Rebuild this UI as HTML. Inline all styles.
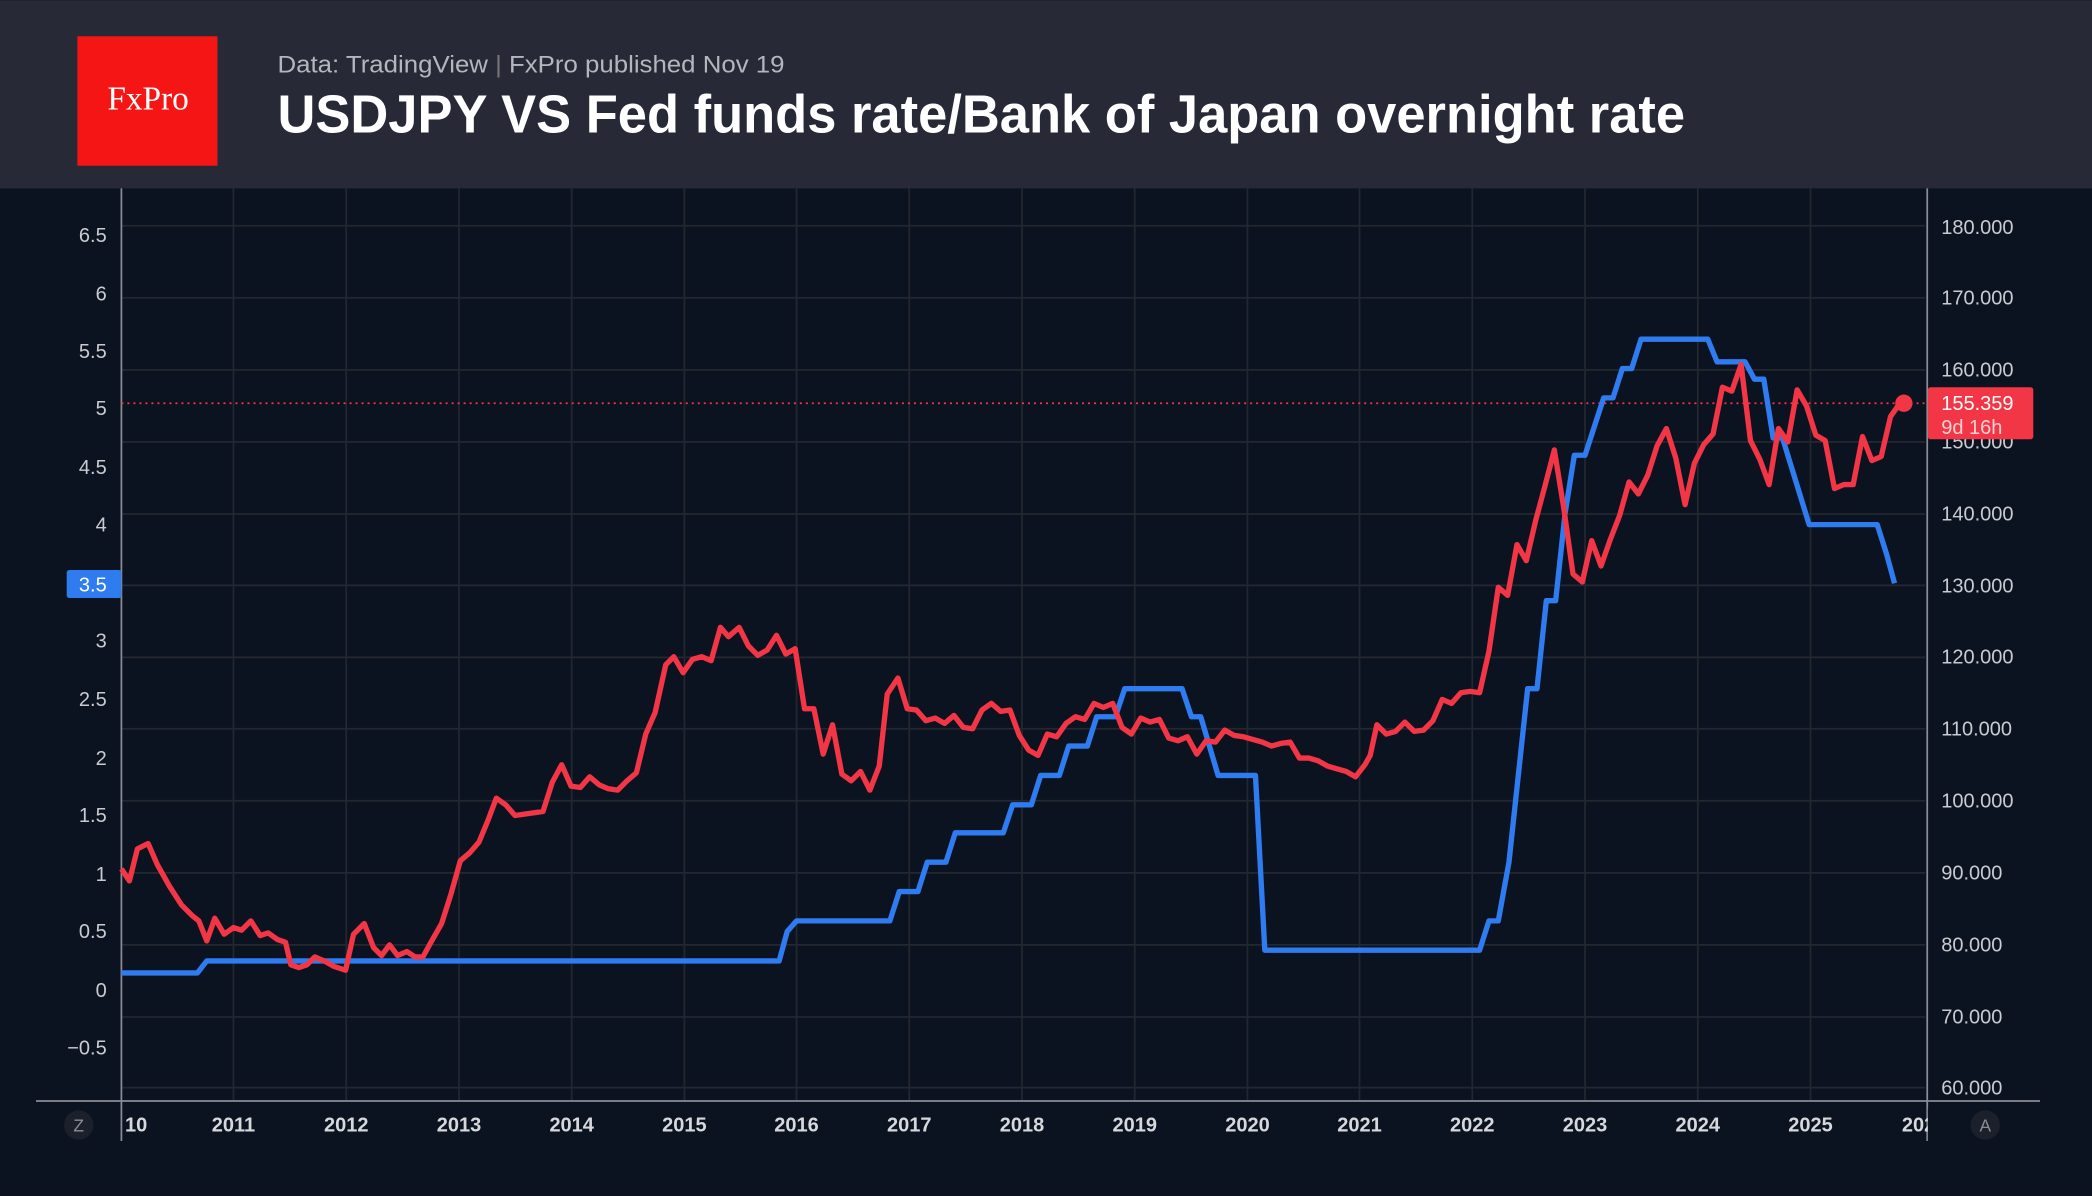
<!DOCTYPE html>
<html><head><meta charset="utf-8"><style>
html,body{margin:0;padding:0;background:#0c1320;}
svg{display:block}
text{font-family:"Liberation Sans",sans-serif}
</style></head><body>
<svg width="2092" height="1196" viewBox="0 0 1568 896" xmlns="http://www.w3.org/2000/svg">
<rect width="1568" height="896" fill="#0c1320"/>
<rect width="1568" height="141" fill="#272a36"/>
<rect x="58" y="27" width="105" height="97" fill="#f51515"/>
<text x="111" y="82" fill="#fff" font-size="25" text-anchor="middle" style="font-family:'Liberation Serif',serif">FxPro</text>
<text x="208" y="54" fill="#b4b6bd" font-size="18" textLength="380" lengthAdjust="spacingAndGlyphs">Data: TradingView <tspan fill="#777">|</tspan> FxPro published Nov 19</text>
<text x="208" y="99" fill="#fff" font-size="40" font-weight="bold" textLength="1055" lengthAdjust="spacingAndGlyphs">USDJPY VS Fed funds rate/Bank of Japan overnight rate</text>
<g stroke="#23272f" stroke-width="1.3">
<line x1="91" x2="1443" y1="169" y2="169"/><line x1="91" x2="1443" y1="223" y2="223"/>
<line x1="91" x2="1443" y1="277" y2="277"/><line x1="91" x2="1443" y1="331" y2="331"/>
<line x1="91" x2="1443" y1="385" y2="385"/><line x1="91" x2="1443" y1="438.5" y2="438.5"/>
<line x1="91" x2="1443" y1="492.5" y2="492.5"/><line x1="91" x2="1443" y1="546" y2="546"/>
<line x1="91" x2="1443" y1="600" y2="600"/><line x1="91" x2="1443" y1="654" y2="654"/>
<line x1="91" x2="1443" y1="708" y2="708"/><line x1="91" x2="1443" y1="762" y2="762"/>
<line x1="91" x2="1443" y1="815" y2="815"/>
<line x1="175" x2="175" y1="141" y2="825"/><line x1="259.5" x2="259.5" y1="141" y2="825"/>
<line x1="344" x2="344" y1="141" y2="825"/><line x1="428.5" x2="428.5" y1="141" y2="825"/>
<line x1="513" x2="513" y1="141" y2="825"/><line x1="597" x2="597" y1="141" y2="825"/>
<line x1="681.5" x2="681.5" y1="141" y2="825"/><line x1="766" x2="766" y1="141" y2="825"/>
<line x1="850.5" x2="850.5" y1="141" y2="825"/><line x1="935" x2="935" y1="141" y2="825"/>
<line x1="1019" x2="1019" y1="141" y2="825"/><line x1="1103.5" x2="1103.5" y1="141" y2="825"/>
<line x1="1188" x2="1188" y1="141" y2="825"/><line x1="1272.5" x2="1272.5" y1="141" y2="825"/>
<line x1="1357" x2="1357" y1="141" y2="825"/>
</g>
<g stroke="#8a8d94" stroke-width="1.3">
<line x1="27" x2="1529" y1="825" y2="825"/>
<line x1="91" x2="91" y1="141" y2="855"/>
<line x1="1444.5" x2="1444.5" y1="141" y2="855"/>
</g>
<line x1="91" x2="1443" y1="302" y2="302" stroke="#f23645" stroke-width="1.3" stroke-dasharray="1.5 3"/>
<polyline fill="none" stroke="#2f7bf0" stroke-width="4" stroke-linejoin="round" points="91,729 148,729 155,720 584,720 590,698 597,690 667,690 674,668 688,668 695,646 709,646 716,624 752,624 759,603 773,603 780,581 794,581 801,559 815,559 822,537 836,537 843,516 886,516 893,537 900,537 913,581 941,581 948,712 1109,712 1116,690 1123,690 1131,646 1138,581 1145,516 1152,516 1159,450 1166,450 1173,385 1180,341 1188,341 1202,298 1209,298 1216,276 1223,276 1230,254 1280,254 1287,271 1308,271 1315,284 1322,284 1329,328 1336,328 1356,393 1407,393 1414,415 1420,437"/>
<polyline fill="none" stroke="#f23645" stroke-width="4" stroke-linejoin="round" points="91,651 97,660 103,636 111,632 118,648 127,664 136,678 144,686 149,690 155,705 161,688 168,700 175,695 181,697 188,690 195,701 201,699 208,704 214,706 218,723 224,725 230,723 236,717 243,720 250,724 259,727 265,700 273,692 280,710 286,716 292,708 298,716 305,713 311,717 317,717 323,706 331,692 338,670 345,645 352,639 359,631 366,614 372,598 379,603 386,611 393,610 407,608 414,586 421,573 428,589 435,590 442,582 449,588 456,591 463,592 470,585 477,579 484,550 491,534 499,498 505,492 512,504 519,494 526,492 533,495 540,470 546,477 554,470 561,484 568,491 575,487 582,476 589,490 596,486 603,531 610,531 617,565 624,543 631,580 638,585 645,578 652,592 659,574 665,520 673,508 680,531 687,532 694,540 701,538 708,542 715,536 722,545 729,546 736,532 743,527 750,533 757,532 764,551 771,562 778,566 785,550 792,552 799,542 806,537 813,539 820,527 827,530 834,527 841,545 848,550 855,538 862,541 869,539 876,553 883,555 890,552 897,565 904,555 911,556 918,547 925,551 932,552 939,554 946,556 953,559 960,557 967,556 974,568 981,568 988,570 995,574 1002,576 1009,578 1016,582 1023,573 1027,566 1032,543 1039,550 1046,548 1053,541 1060,548 1067,547 1074,540 1081,524 1088,527 1095,519 1102,518 1109,519 1116,488 1123,440 1130,446 1137,408 1144,420 1151,390 1158,364 1165,337 1172,380 1179,430 1186,436 1193,405 1200,424 1207,404 1214,386 1221,361 1228,370 1235,356 1242,334 1249,321 1256,343 1263,378 1270,347 1277,333 1284,325 1291,290 1298,293 1305,273 1312,330 1319,344 1326,363 1333,321 1340,331 1347,292 1354,304 1361,326 1368,330 1375,366 1382,363 1389,363 1396,327 1403,345 1410,342 1417,312 1424,302"/>
<circle cx="1427" cy="302" r="6.5" fill="#f23645"/>
<g fill="#c9cbd0" font-size="15" text-anchor="end">
<text x="80" y="181">6.5</text><text x="80" y="225">6</text><text x="80" y="268">5.5</text>
<text x="80" y="311">5</text><text x="80" y="355">4.5</text><text x="80" y="398">4</text>
<text x="80" y="485">3</text><text x="80" y="529">2.5</text><text x="80" y="573">2</text>
<text x="80" y="616">1.5</text><text x="80" y="660">1</text><text x="80" y="703">0.5</text>
<text x="80" y="747">0</text><text x="80" y="790">−0.5</text>
</g>
<rect x="50" y="427" width="41" height="21" rx="2" fill="#2f7bf0"/>
<text x="80" y="443" fill="#fff" font-size="15" text-anchor="end">3.5</text>
<g fill="#c9cbd0" font-size="15">
<text x="1455" y="175">180.000</text><text x="1455" y="228">170.000</text><text x="1455" y="282">160.000</text>
<text x="1455" y="336">150.000</text><text x="1455" y="390">140.000</text><text x="1455" y="444">130.000</text>
<text x="1455" y="497">120.000</text><text x="1455" y="551">110.000</text><text x="1455" y="605">100.000</text>
<text x="1455" y="659">90.000</text><text x="1455" y="713">80.000</text><text x="1455" y="767">70.000</text>
<text x="1455" y="820">60.000</text>
</g>
<rect x="1445" y="290" width="79" height="39" rx="2" fill="#f23645"/>
<text x="1455" y="307" fill="#fff" font-size="15">155.359</text>
<text x="1455" y="325" fill="#fbd0d4" font-size="15">9d 16h</text>
<g fill="#d6d8dc" font-size="15" font-weight="bold" text-anchor="middle">
<text x="102" y="848">10</text><text x="175" y="848">2011</text><text x="259.5" y="848">2012</text>
<text x="344" y="848">2013</text><text x="428.5" y="848">2014</text><text x="513" y="848">2015</text>
<text x="597" y="848">2016</text><text x="681.5" y="848">2017</text><text x="766" y="848">2018</text>
<text x="850.5" y="848">2019</text><text x="935" y="848">2020</text><text x="1019" y="848">2021</text>
<text x="1103.5" y="848">2022</text><text x="1188" y="848">2023</text><text x="1272.5" y="848">2024</text>
<text x="1357" y="848">2025</text><text x="1438" y="848">202</text>
</g>
<rect x="1445" y="830" width="40" height="25" fill="#0c1320"/>
<circle cx="59" cy="843" r="11" fill="#1c202b"/><text x="59" y="848" fill="#8a8d94" font-size="13" text-anchor="middle">Z</text>
<circle cx="1488" cy="843" r="11" fill="#1c202b"/><text x="1488" y="848" fill="#8a8d94" font-size="13" text-anchor="middle">A</text>
</svg>
</body></html>
